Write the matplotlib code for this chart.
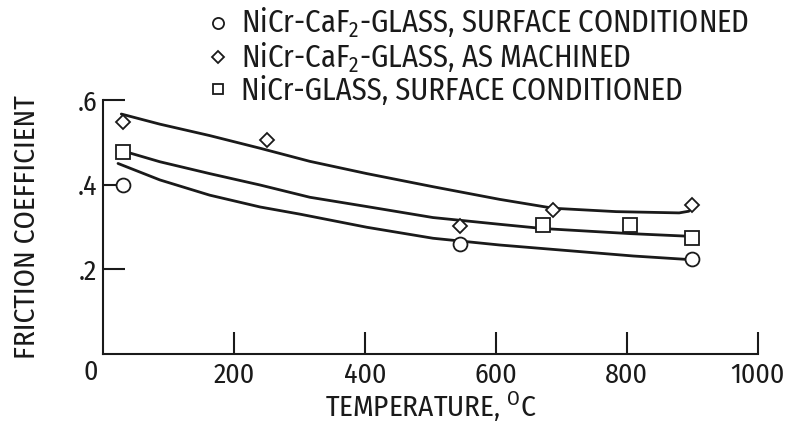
import matplotlib.pyplot as plt

plt.rcParams['font.family'] = ['Fira Sans Condensed', 'DejaVu Sans']
plt.rcParams['mathtext.fontset'] = 'custom'
plt.rcParams['mathtext.rm'] = 'Fira Sans Condensed'

circ_x = [30, 545, 900]
circ_y = [0.400, 0.260, 0.224]
diam_x = [30, 250, 545, 688, 900]
diam_y = [0.549, 0.505, 0.302, 0.341, 0.351]
sq_x = [30, 672, 805, 900]
sq_y = [0.476, 0.304, 0.304, 0.274]

# --- hand-faired curves (traced points) ---
circ_cx = [23, 87, 163, 240, 301, 403, 504, 606, 708, 810, 891]
circ_cy = [0.450, 0.411, 0.375, 0.347, 0.330, 0.299, 0.273, 0.257, 0.244, 0.231, 0.223]
diam_cx = [28, 87, 163, 240, 316, 403, 504, 606, 688, 784, 880, 895]
diam_cy = [0.567, 0.543, 0.516, 0.486, 0.455, 0.426, 0.395, 0.365, 0.344, 0.336, 0.333, 0.337]
sq_cx = [34, 87, 163, 240, 316, 403, 504, 606, 672, 805, 891]
sq_cy = [0.478, 0.454, 0.426, 0.399, 0.370, 0.348, 0.322, 0.306, 0.296, 0.284, 0.278]

labels = [r'NiCr-CaF$\mathregular{_2}$-GLASS, SURFACE CONDITIONED',
          r'NiCr-CaF$\mathregular{_2}$-GLASS, AS MACHINED',
          'NiCr-GLASS, SURFACE CONDITIONED']

xticks = [200, 400, 600, 800, 1000]
yticks = [0.2, 0.4, 0.6]
ytick_labels = ['.2', '.4', '.6']

ink = '#1a1a1a'
fig = plt.figure(figsize=(7.86, 4.25), dpi=100)
ax = fig.add_axes([0.131, 0.168, 0.833, 0.5965])

for cx, cy in [(circ_cx, circ_cy), (diam_cx, diam_cy), (sq_cx, sq_cy)]:
    ax.plot(cx, cy, color=ink, lw=2.0, solid_capstyle='round', solid_joinstyle='round')

mk = dict(linestyle='none', mfc='white', mec=ink, mew=1.3, zorder=3)
h1, = ax.plot(circ_x, circ_y, marker='o', ms=10, label=labels[0], **mk)
h2, = ax.plot(diam_x, diam_y, marker='D', ms=7.5, label=labels[1], **mk)
h3, = ax.plot(sq_x, sq_y, marker='s', ms=9.5, label=labels[2], **mk)

ax.set_xlim(0, 1000)
ax.set_ylim(0, 0.6)
for s in ['top', 'right']:
    ax.spines[s].set_visible(False)
for s in ['left', 'bottom']:
    ax.spines[s].set_linewidth(1.5)
    ax.spines[s].set_color(ink)

ax.set_xticks(xticks)
ax.set_xticklabels([str(t) for t in xticks])
ax.set_yticks(yticks)
ax.set_yticklabels(ytick_labels)
ax.tick_params(direction='in', length=16, width=1.5, color=ink,
               labelsize=20, labelcolor=ink)
ax.tick_params(axis='x', pad=6)
ax.tick_params(axis='y', pad=4)
ax.text(-0.018, -0.073, '0', transform=ax.transAxes, ha='center', va='center',
        fontsize=20, color=ink)

ax.set_xlabel(r'TEMPERATURE, $\mathregular{^O}$C', fontsize=21, color=ink, labelpad=1)
ax.set_ylabel('FRICTION COEFFICIENT', fontsize=21, color=ink)
ax.yaxis.set_label_coords(-0.095, 0.5)

fig.legend(handles=[h1, h2, h3], loc='upper left', bbox_to_anchor=(0.266, 0.985),
           frameon=False, fontsize=22, markerscale=0.8, handlelength=0.6,
           handletextpad=0.45, labelspacing=0.02, borderaxespad=0, borderpad=0,
           labelcolor=ink)

fig.savefig('out.png', dpi=100)
